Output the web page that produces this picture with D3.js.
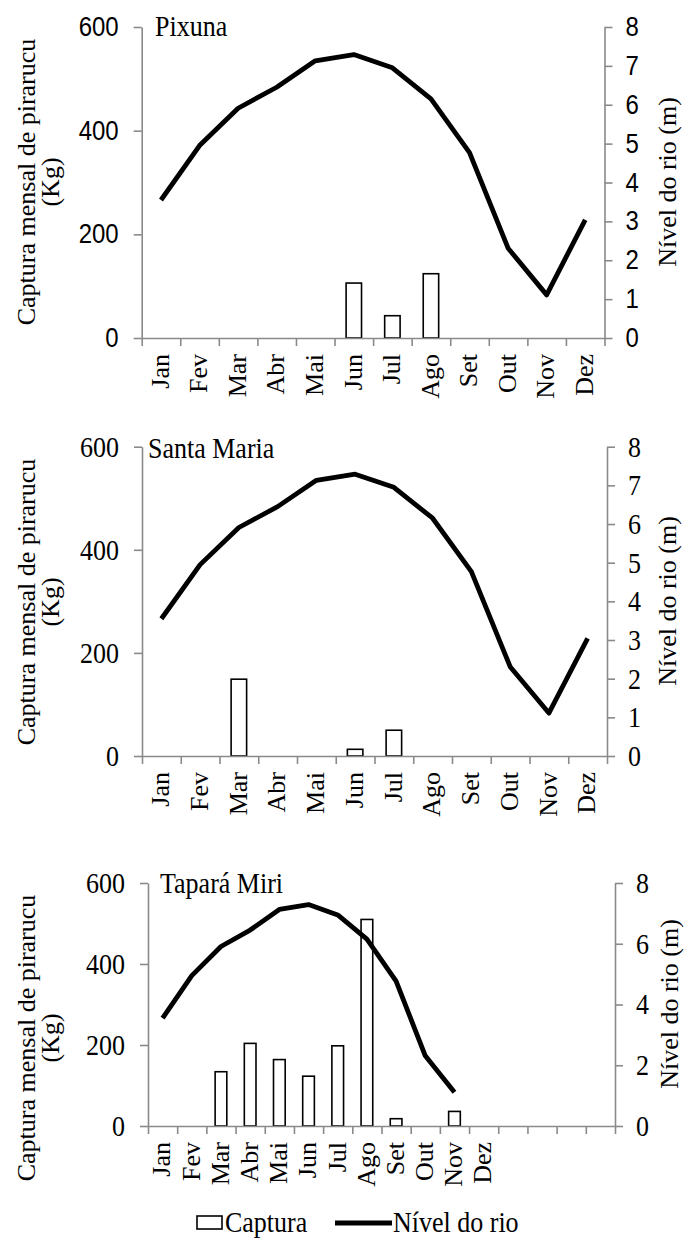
<!DOCTYPE html>
<html>
<head>
<meta charset="utf-8">
<script src="https://cdn.jsdelivr.net/npm/d3@7"></script>
<style>
  html, body { margin: 0; padding: 0; background: #fff; }
  svg { display: block; }
</style>
</head>
<body>
<svg id="chart" width="686" height="1239"></svg>
<script>
// ---------- DATA ----------
const months = ["Jan","Fev","Mar","Abr","Mai","Jun","Jul","Ago","Set","Out","Nov","Dez"];
const nivelRio = [3.55, 4.95, 5.91, 6.45, 7.13, 7.29, 6.95, 6.15, 4.77, 2.31, 1.11, 3.04];
const nivelRioTapara = [3.55, 4.95, 5.91, 6.45, 7.13, 7.29, 6.95, 6.15, 4.77, 2.31, 1.11];
const capturaPixuna = [null, null, null, null, null, 106, 43, 124, null, null, null, null];
const capturaSantaMaria = [null, null, 149, null, null, 13, 50, null, null, null, null, null];
const capturaTapara = [null, null, 134, 204, 164, 123, 198, 510, 18, null, 36, null];
const leftTicks = [0, 200, 400, 600];
const rightTicksFull = [0, 1, 2, 3, 4, 5, 6, 7, 8];
const rightTicksEven = [0, 2, 4, 6, 8];
const panelNames = ["Pixuna", "Santa Maria", "Tapará Miri"];
const leftTitle = ["Captura mensal de pirarucu", "(Kg)"];
const rightTitle = "Nível do rio (m)";
const legendLabels = ["Captura", "Nível do rio"];

// ---------- LAYOUT ----------
const svg = d3.select("#chart");
const SERIF = "'Liberation Serif', 'Times New Roman', serif";
const SANS = "'Liberation Sans', Arial, sans-serif";
const AXIS = "#8a8a8a";
const STRETCH = 1.12; // reference text looks vertically stretched

const panels = [
  { name: panelNames[0], cap: capturaPixuna, level: nivelRio, nCat: 12, rticks: rightTicksFull,
    left: 141.7, right: 604.5, top: 27, bottom: 338, tickFont: SANS, tickSize: 24,
    titleX: 155, titleY: 36, lt1: 35, lt2: 59, ltY: 182, rtX: 676, rtY: 182 },
  { name: panelNames[1], cap: capturaSantaMaria, level: nivelRio, nCat: 12, rticks: rightTicksFull,
    left: 142, right: 607, top: 446.7, bottom: 756, tickFont: SERIF, tickSize: 26,
    titleX: 148, titleY: 458, lt1: 35, lt2: 59, ltY: 602, rtX: 676, rtY: 601 },
  { name: panelNames[2], cap: capturaTapara, level: nivelRioTapara, nCat: 16, rticks: rightTicksEven,
    left: 148, right: 615, top: 883, bottom: 1126, tickFont: SERIF, tickSize: 26,
    titleX: 160, titleY: 893, lt1: 35, lt2: 59, ltY: 1038, rtX: 678, rtY: 1004 }
];

function styleAxis(g, font, size) {
  g.select(".domain").attr("stroke", AXIS).attr("stroke-width", 1.6);
  g.selectAll(".tick line").attr("stroke", AXIS).attr("stroke-width", 1.6);
  g.selectAll(".tick text").attr("fill", "#000")
    .attr("transform", `scale(1,${STRETCH})`)
    .style("font-family", font).style("font-size", size + "px");
}

panels.forEach(p => {
  const x = d3.scaleBand().domain(d3.range(p.nCat)).range([p.left, p.right]).padding(0);
  const xb = d3.scaleLinear().domain([0, p.nCat]).range([p.left, p.right]);
  const y = d3.scaleLinear().domain([0, 600]).range([p.bottom, p.top]);
  const y2 = d3.scaleLinear().domain([0, 8]).range([p.bottom, p.top]);
  const bw = x.bandwidth();

  // bars
  svg.append("g").selectAll("rect")
    .data(p.cap.map((v, i) => ({ v, i })).filter(d => d.v != null))
    .join("rect")
    .attr("x", d => x(d.i) + bw * 0.3)
    .attr("width", bw * 0.4)
    .attr("y", d => y(d.v))
    .attr("height", d => y(0) - y(d.v))
    .attr("fill", "#fff").attr("stroke", "#000").attr("stroke-width", 1.6);

  // boundary ticks on x axis
  const gxb = svg.append("g").attr("transform", `translate(0,${p.bottom})`)
    .call(d3.axisBottom(xb).tickValues(d3.range(p.nCat + 1)).tickSize(8).tickSizeOuter(0).tickFormat(""));
  styleAxis(gxb, SERIF, 26);

  // month labels
  const gx = svg.append("g").attr("transform", `translate(0,${p.bottom})`)
    .call(d3.axisBottom(x).tickSize(0).tickFormat(i => months[i] || ""));
  gx.select(".domain").remove();
  gx.selectAll(".tick text")
    .attr("y", 0).attr("x", -16).attr("dy", "0.3em")
    .attr("transform", "rotate(-90)")
    .attr("text-anchor", "end")
    .attr("fill", "#000")
    .style("font-family", SERIF).style("font-size", "26px");

  // left axis
  const gl = svg.append("g").attr("transform", `translate(${p.left},0)`)
    .call(d3.axisLeft(y).tickValues(leftTicks).tickSize(8).tickSizeOuter(0).tickPadding(15));
  styleAxis(gl, p.tickFont, p.tickSize);

  // right axis
  const gr = svg.append("g").attr("transform", `translate(${p.right},0)`)
    .call(d3.axisRight(y2).tickValues(p.rticks).tickSize(8).tickSizeOuter(0).tickPadding(13));
  styleAxis(gr, p.tickFont, p.tickSize);

  // line
  svg.append("path")
    .datum(p.level)
    .attr("fill", "none").attr("stroke", "#000").attr("stroke-width", 4.8)
    .attr("stroke-linejoin", "round").attr("stroke-linecap", "butt")
    .attr("d", d3.line().x((d, i) => x(i) + bw / 2).y(d => y2(d)));

  // panel title
  svg.append("text").attr("transform", `translate(${p.titleX},${p.titleY}) scale(1,${STRETCH})`)
    .style("font-family", SERIF).style("font-size", "26px").text(p.name);

  // left title (two lines)
  svg.append("text").attr("transform", `translate(${p.lt1},${p.ltY}) rotate(-90)`)
    .attr("text-anchor", "middle")
    .style("font-family", SERIF).style("font-size", "26px").text(leftTitle[0]);
  svg.append("text").attr("transform", `translate(${p.lt2},${p.ltY}) rotate(-90)`)
    .attr("text-anchor", "middle")
    .style("font-family", SERIF).style("font-size", "26px").text(leftTitle[1]);

  // right title
  svg.append("text").attr("transform", `translate(${p.rtX},${p.rtY}) rotate(-90)`)
    .attr("text-anchor", "middle")
    .style("font-family", SERIF).style("font-size", "26px").text(rightTitle);
});

// ---------- LEGEND ----------
const lg = svg.append("g");
lg.append("rect").attr("x", 197).attr("y", 1216).attr("width", 25).attr("height", 13)
  .attr("fill", "#fff").attr("stroke", "#000").attr("stroke-width", 1.6);
lg.append("text").attr("transform", `translate(225,1232) scale(1,${STRETCH})`)
  .style("font-family", SERIF).style("font-size", "26px").text(legendLabels[0]);
lg.append("line").attr("x1", 335).attr("x2", 392).attr("y1", 1223).attr("y2", 1223)
  .attr("stroke", "#000").attr("stroke-width", 4.8);
lg.append("text").attr("transform", `translate(393,1232) scale(1,${STRETCH})`)
  .style("font-family", SERIF).style("font-size", "26px").text(legendLabels[1]);
</script>
</body>
</html>
